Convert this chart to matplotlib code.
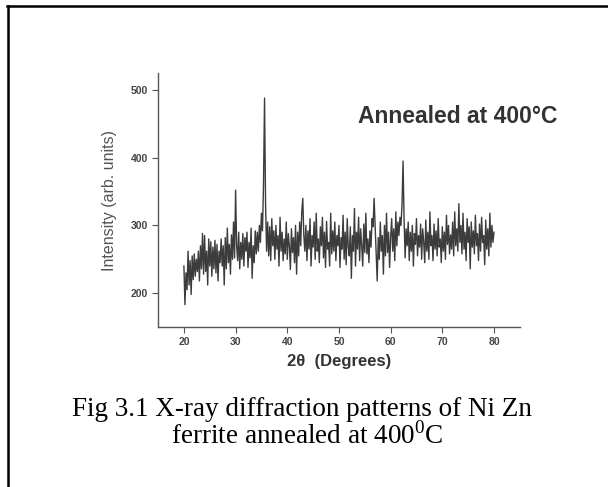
#!/usr/bin/env python3
import numpy as np
import matplotlib
matplotlib.use('Agg')
import matplotlib.pyplot as plt
from matplotlib.lines import Line2D

plt.rcParams['font.family'] = ['Liberation Sans', 'DejaVu Sans']
plt.rcParams['mathtext.fontset'] = 'custom'
plt.rcParams['mathtext.rm'] = 'Liberation Serif'

# 2theta from 20 to 80 deg, step 0.2 deg
two_theta = np.linspace(20, 80, 301)
intensity = [
    240, 183, 230, 205, 262, 212, 248, 198, 255, 220,   # 20-22
    258, 225, 250, 232, 262, 218, 270, 236, 288, 228,   # 22-24
    285, 232, 262, 212, 280, 240, 276, 225, 268, 236,   # 24-26
    278, 230, 272, 218, 262, 245, 280, 240, 270, 212,   # 26-28
    282, 236, 296, 245, 272, 228, 286, 250, 305, 252,   # 28-30
    352, 270, 248, 290, 236, 275, 250, 288, 240, 282,   # 30-32
    262, 290, 238, 275, 252, 296, 222, 270, 245, 292,   # 32-34
    258, 290, 262, 300, 275, 318, 292, 360, 488, 330,   # 34-36
    262, 305, 255, 298, 248, 310, 270, 292, 250, 300,   # 36-38
    265, 285, 240, 312, 262, 290, 248, 280, 258, 305,   # 38-40
    250, 288, 270, 235, 295, 260, 282, 245, 300, 228,   # 40-42
    290, 255, 305, 270, 320, 340, 285, 262, 300, 248,   # 42-44
    292, 265, 310, 240, 285, 268, 305, 250, 318, 262,   # 44-46
    280, 245, 298, 270, 312, 252, 290, 238, 306, 265,   # 46-48
    275, 240, 318, 258, 292, 262, 305, 248, 285, 270,   # 48-50
    300, 238, 282, 265, 315, 250, 290, 242, 310, 268,   # 50-52
    255, 298, 222, 285, 262, 325, 240, 290, 265, 312,   # 52-54
    248, 295, 270, 240, 302, 260, 318, 258, 280, 245,   # 54-56
    292, 268, 310, 298, 340, 300, 262, 218, 282, 250,   # 56-58
    305, 262, 285, 228, 300, 255, 318, 260, 290, 238,   # 58-60
    282, 310, 262, 295, 248, 320, 270, 305, 285, 312,   # 60-62
    300, 330, 395, 310, 252, 295, 270, 305, 248, 290,   # 62-64
    262, 300, 240, 288, 272, 310, 255, 285, 268, 302,   # 64-66
    250, 295, 275, 245, 308, 262, 290, 250, 320, 270,   # 66-68
    285, 248, 302, 265, 292, 255, 310, 268, 280, 245,   # 68-70
    298, 262, 290, 250, 315, 272, 300, 258, 286, 265,   # 70-72
    305, 255, 320, 270, 295, 262, 332, 275, 300, 258,   # 72-74
    318, 265, 290, 248, 310, 275, 298, 236, 305, 268,   # 74-76
    292, 258, 315, 270, 288, 248, 302, 262, 312, 275,   # 76-78
    285, 242, 308, 265, 295, 255, 318, 268, 300, 275,   # 78-80
    290,
]
x_ticks = [20, 30, 40, 50, 60, 70, 80]
y_ticks = [200, 300, 400, 500]

fig = plt.figure(figsize=(6.08, 4.87), dpi=100)
ax = fig.add_axes([0.26, 0.3285, 0.595, 0.5216])
ax.plot(two_theta, intensity, color='#3c3c3c', lw=1.0)

ax.set_xlim(15, 85)
ax.set_ylim(150, 525)
ax.set_xticks(x_ticks)
ax.set_yticks(y_ticks)
for s in ['top', 'right']:
    ax.spines[s].set_visible(False)
for s in ['left', 'bottom']:
    ax.spines[s].set_color('#555555')
    ax.spines[s].set_linewidth(1.0)
ax.tick_params(direction='out', length=4, width=0.8, color='#555555',
               labelsize=7.5, labelcolor='#444444')
for lab in ax.get_xticklabels() + ax.get_yticklabels():
    lab.set_fontweight('bold')

ax.set_xlabel('2\u03b8  (Degrees)', fontsize=12, fontweight='bold', color='#333333', labelpad=5)
ax.set_ylabel('Intensity (arb. units)', fontsize=11.5, color='#555555', labelpad=10)
ax.text(53.6, 461, 'Annealed at 400\u00b0C', fontsize=16.5, fontweight='bold',
        color='#333333', va='center', ha='left')

# caption below the chart
fig.text(302 / 608, 1 - 416 / 487, 'Fig 3.1 X-ray diffraction patterns of Ni Zn',
         fontsize=19.5, family='Liberation Serif', ha='center', va='baseline')
fig.text(307 / 608, 1 - 444 / 487, 'ferrite annealed at 400$^{0}$C',
         fontsize=19.5, family='Liberation Serif', ha='center', va='baseline')

# page frame (top and left edges)
fig.add_artist(Line2D([7 / 608, 1], [1 - 6 / 487, 1 - 6 / 487], color='black', lw=1.8))
fig.add_artist(Line2D([8 / 608, 8 / 608], [0, 1 - 6 / 487], color='black', lw=1.8))

fig.savefig('out.png', dpi=100)
